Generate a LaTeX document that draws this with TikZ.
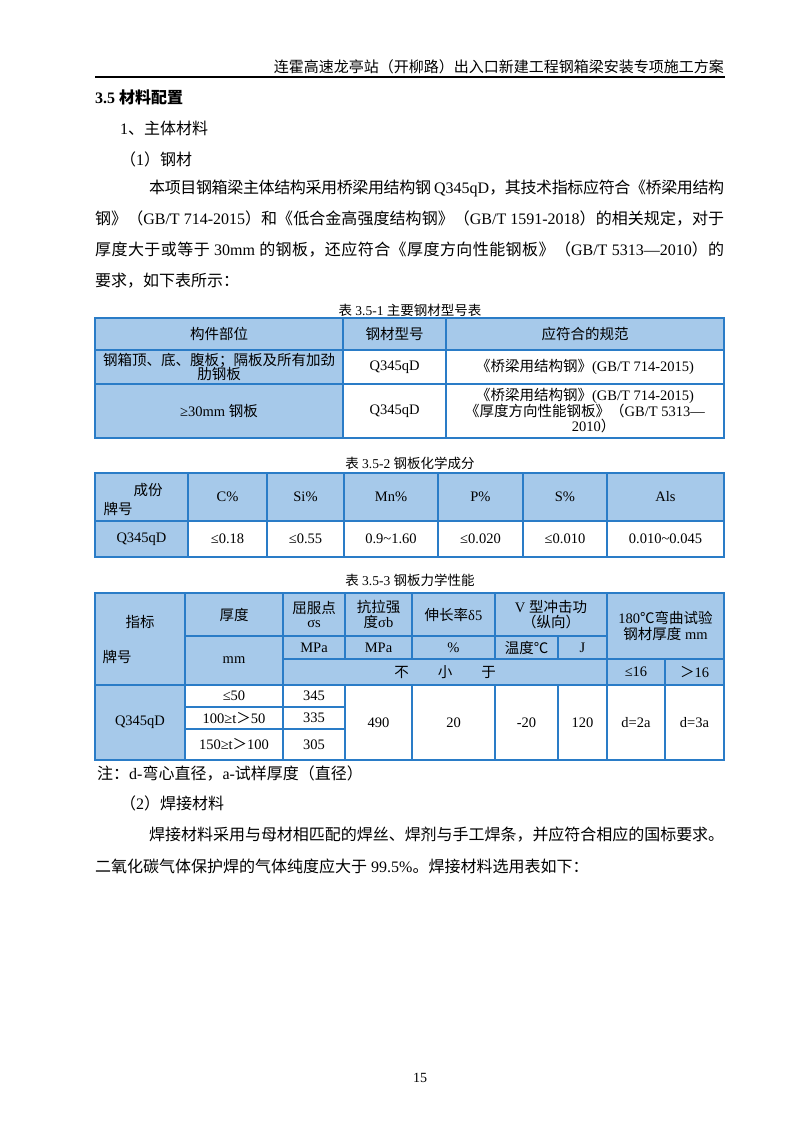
\documentclass[tikz,border=0pt]{standalone}
\usepackage{fontspec}
\setmainfont{Liberation Serif}
\newfontfamily\cjk{Noto Sans CJK SC}
\newXeTeXintercharclass\cjkcls
\count255="4E00 \loop \XeTeXcharclass\count255=\cjkcls \ifnum\count255<"9FFF \advance\count255 1 \repeat
\count255="3000 \loop \XeTeXcharclass\count255=\cjkcls \ifnum\count255<"303F \advance\count255 1 \repeat
\count255="FF00 \loop \XeTeXcharclass\count255=\cjkcls \ifnum\count255<"FFEF \advance\count255 1 \repeat
\XeTeXcharclass"2103=\cjkcls
\XeTeXinterchartoks 0 \cjkcls = {\cjk}
\XeTeXinterchartoks 4095 \cjkcls = {\cjk}
\XeTeXinterchartoks \cjkcls 0 = {\rmfamily}
\XeTeXinterchartoks \cjkcls 4095 = {\rmfamily}
\XeTeXinterchartoks \cjkcls \cjkcls = {\hskip0pt plus 3pt minus 0.6pt}
\XeTeXinterchartokenstate=1
\definecolor{cellblue}{HTML}{A6C9EA}
\definecolor{lineblue}{HTML}{2A7CC7}
\tikzset{
 body/.style={inner sep=0pt,anchor=west,font=\fontsize{16}{18}\selectfont},
 ttext/.style={inner sep=0pt,align=center,font=\fontsize{14.5}{16.5}\selectfont},
 captext/.style={inner sep=0pt,font=\fontsize{13.5}{15}\selectfont},
 cellframe/.style={draw=lineblue,line width=1.8pt}
}
\newcommand{\jl}[4]{\node[body] (#1) at (#2) {\hbox to #3pt{#4}};}
% \cl{x1}{y1}{x2}{y2}{fill}{text}
\newcommand{\cl}[6]{\fill[#5] (#1,#2) rectangle (#3,#4);
 \draw[cellframe] (#1,#2) rectangle (#3,#4);
 \node[ttext] at ({(#1+#3)/2},{(#2+#4)/2}) {#6};}
\begin{document}
\begin{tikzpicture}[x=1pt,y=-1pt]
\useasboundingbox[fill=white] (0,0) rectangle (800,1132);
% header
\node[inner sep=0pt,anchor=east,font=\fontsize{15}{17}\selectfont] (hdr) at (724,67) {连霍高速龙亭站（开柳路）出入口新建工程钢箱梁安装专项施工方案};
\draw[line width=1.3pt] (95,77) -- (725,77);
\node[body,font=\fontsize{16}{18}\selectfont\bfseries] (sec) at (95,97) {3.5 材料配置};
\node[body] (s1) at (120,128) {1、主体材料};
\node[body] (s2) at (120,159) {（1）钢材};
\jl{p1}{149,188}{575}{本项目钢箱梁主体结构采用桥梁用结构钢 Q345qD，其技术指标应符合《桥梁用结构}
\jl{p2}{95,219}{629}{钢》（GB/T 714-2015）和《低合金高强度结构钢》（GB/T 1591-2018）的相关规定，对于}
\jl{p3}{95,250}{629}{厚度大于或等于 30mm 的钢板，还应符合《厚度方向性能钢板》（GB/T 5313—2010）的}
\node[body] (p4) at (95,281) {要求，如下表所示：};
% table 1
\node[captext] (c1) at (410,310) {表 3.5-1 主要钢材型号表};
\cl{95}{318}{343}{350}{cellblue}{构件部位}
\cl{343}{318}{446}{350}{cellblue}{钢材型号}
\cl{446}{318}{724}{350}{cellblue}{应符合的规范}
\cl{95}{350}{343}{384}{cellblue}{钢箱顶、底、腹板；隔板及所有加劲\\[-2pt]肋钢板}
\cl{343}{350}{446}{384}{white}{Q345qD}
\cl{446}{350}{724}{384}{white}{《桥梁用结构钢》(GB/T 714-2015)}
\cl{95}{384}{343}{438}{cellblue}{≥30mm 钢板}
\cl{343}{384}{446}{438}{white}{Q345qD}
\cl{446}{384}{724}{438}{white}{《桥梁用结构钢》(GB/T 714-2015)\\[-1pt]《厚度方向性能钢板》（GB/T 5313—\\[-1pt]\hspace*{1.2em}2010）}
% table 2
\node[captext] (c2) at (410,463) {表 3.5-2 钢板化学成分};
\cl{95}{473}{188}{521}{cellblue}{}
\node[ttext] (t2a) at (148,490) {成份};
\node[ttext] (t2b) at (118,509) {牌号};
\cl{188}{473}{267}{521}{cellblue}{C\%}
\cl{267}{473}{344}{521}{cellblue}{Si\%}
\cl{344}{473}{438}{521}{cellblue}{Mn\%}
\cl{438}{473}{523}{521}{cellblue}{P\%}
\cl{523}{473}{607}{521}{cellblue}{S\%}
\cl{607}{473}{724}{521}{cellblue}{Als}
\cl{95}{521}{188}{557}{cellblue}{Q345qD}
\cl{188}{521}{267}{557}{white}{≤0.18}
\cl{267}{521}{344}{557}{white}{≤0.55}
\cl{344}{521}{438}{557}{white}{0.9\textasciitilde1.60}
\cl{438}{521}{523}{557}{white}{≤0.020}
\cl{523}{521}{607}{557}{white}{≤0.010}
\cl{607}{521}{724}{557}{white}{0.010\textasciitilde0.045}
% table 3
\node[captext] (c3) at (410,580) {表 3.5-3 钢板力学性能};
\cl{95}{593}{185}{685}{cellblue}{}
\node[ttext] (t3a) at (140,622) {指标};
\node[ttext] (t3b) at (117,657) {牌号};
\cl{185}{593}{283}{636}{cellblue}{厚度}
\cl{185}{636}{283}{685}{cellblue}{mm}
\cl{283}{593}{345}{636}{cellblue}{屈服点\\[-2pt]σs}
\cl{345}{593}{412}{636}{cellblue}{抗拉强\\[-2pt]度σb}
\cl{412}{593}{495}{636}{cellblue}{伸长率δ5}
\cl{495}{593}{607}{636}{cellblue}{V 型冲击功\\[-2pt]（纵向）}
\cl{283}{636}{345}{659}{cellblue}{MPa}
\cl{345}{636}{412}{659}{cellblue}{MPa}
\cl{412}{636}{495}{659}{cellblue}{\%}
\cl{495}{636}{558}{659}{cellblue}{温度℃}
\cl{558}{636}{607}{659}{cellblue}{J}
\cl{283}{659}{607}{685}{cellblue}{不\hspace{2em}小\hspace{2em}于}
\cl{607}{593}{724}{659}{cellblue}{180℃弯曲试验\\钢材厚度 mm}
\cl{607}{659}{665}{685}{cellblue}{≤16}
\cl{665}{659}{724}{685}{cellblue}{＞16}
\cl{95}{685}{185}{760}{cellblue}{Q345qD}
\cl{185}{685}{283}{707}{white}{≤50}
\cl{185}{707}{283}{729}{white}{100≥t＞50}
\cl{185}{729}{283}{760}{white}{150≥t＞100}
\cl{283}{685}{345}{707}{white}{345}
\cl{283}{707}{345}{729}{white}{335}
\cl{283}{729}{345}{760}{white}{305}
\cl{345}{685}{412}{760}{white}{490}
\cl{412}{685}{495}{760}{white}{20}
\cl{495}{685}{558}{760}{white}{-20}
\cl{558}{685}{607}{760}{white}{120}
\cl{607}{685}{665}{760}{white}{d=2a}
\cl{665}{685}{724}{760}{white}{d=3a}
\node[body] (note) at (97,773) {注：d-弯心直径，a-试样厚度（直径）};
\node[body] (s3) at (120,803) {（2）焊接材料};
\jl{q1}{149,835}{575}{焊接材料采用与母材相匹配的焊丝、焊剂与手工焊条，并应符合相应的国标要求。}
\node[body] (q2) at (95,866) {二氧化碳气体保护焊的气体纯度应大于 99.5\%。焊接材料选用表如下：};
\node[inner sep=0pt,font=\fontsize{14}{16}\selectfont] (pg) at (420,1078) {15};
\end{tikzpicture}
\end{document}
